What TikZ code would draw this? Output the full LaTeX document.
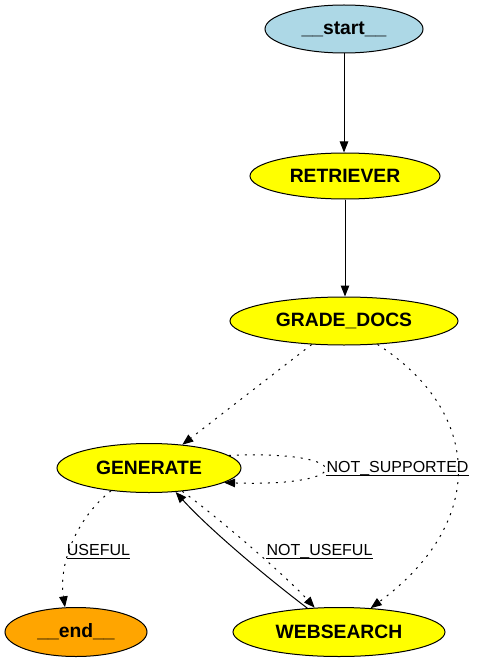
\documentclass[tikz,border=0pt]{standalone}
\usepackage{fontspec}
\setmainfont{Liberation Sans}
\usetikzlibrary{shapes.geometric,arrows.meta,calc}
\definecolor{startblue}{HTML}{ADD8E6}
\definecolor{endorange}{HTML}{FFA500}
\definecolor{nodeyellow}{HTML}{FFFF00}
\begin{document}
\begin{tikzpicture}[x=1pt,y=-1pt,
  gnode/.style={ellipse,draw=black,line width=1pt,inner sep=0pt,fill=nodeyellow,
    minimum height=48pt,font=\fontsize{19.3}{22}\selectfont\bfseries},
  edge/.style={line width=1pt,-{Triangle[length=11pt,width=8.5pt]}},
  dots/.style={edge,dash pattern=on 2pt off 6pt},
  lbl/.style={inner sep=0pt,anchor=base,font=\fontsize{16}{19}\selectfont},
  uline/.style={line width=0.9pt}]
\useasboundingbox (0,0) rectangle (477,663);
% nodes
\node[gnode,fill=startblue,minimum width=158pt] (start) at (344,29) {\_\_start\_\_};
\node[gnode,minimum width=190pt,minimum height=46pt] (ret) at (345,176) {RETRIEVER};
\node[gnode,minimum width=228pt] (gd) at (344,321) {GRADE\_DOCS};
\node[gnode,minimum width=184pt,minimum height=49pt] (gen) at (149,468) {GENERATE};
\node[gnode,fill=endorange,minimum width=142pt,minimum height=49pt] (end) at (76,632) {\_\_end\_\_};
\node[gnode,minimum width=212pt,minimum height=49pt] (ws) at (339,632) {WEBSEARCH};
% labels
\node[lbl] (lns) at (397.5,472.5) {NOT\_SUPPORTED};
\node[lbl] (lu) at (98.5,555) {USEFUL};
\node[lbl] (lnu) at (319.5,555) {NOT\_USEFUL};
\foreach \l in {lns,lu,lnu}
  \draw[uline] ($(\l.base west)+(0,3)$) -- ($(\l.base east)+(0,3)$);
% edges
\draw[edge] (start.south) -- (start.south |- ret.north);
\draw[edge] (ret.south) -- (ret.south |- gd.north);
\draw[dots] (gd.-144) -- (gen.35);
\draw[dots] (gd.-35) .. controls (480,410) and (490,520) .. (ws.37);
\draw[dots] (gen.9) .. controls (357,450) and (357,487) .. (gen.-11);
\draw[dots] (gen.-149) .. controls (80,515) and (58,560) .. (end.114);
\draw[dots] (gen.-35) .. controls (215,515) and (285,575) .. (ws.135);
\draw[edge] (ws.143) .. controls (270,580) and (210,530) .. (gen.-42);
\end{tikzpicture}
\end{document}
